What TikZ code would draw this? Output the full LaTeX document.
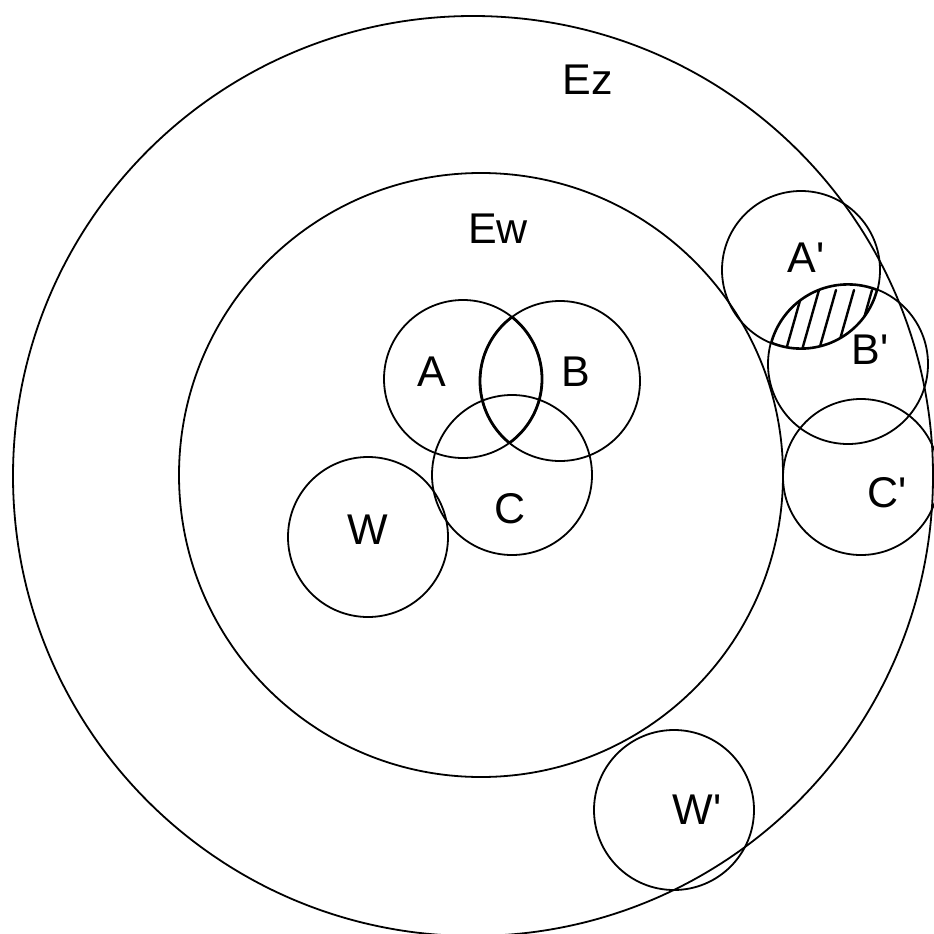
\documentclass[tikz,border=0pt]{standalone}
\usepackage{fontspec}
\setmainfont{Liberation Sans}
\newcommand{\pr}{\textquotesingle}
\begin{document}
\begin{tikzpicture}[x=1pt,y=-1pt,
  ring/.style={draw=black,line width=1.8pt},
  lbl/.style={inner sep=0pt,font=\fontsize{43}{43}\selectfont},
  hatchline/.style={line width=2.4pt,line cap=round}]
\useasboundingbox (0,0) rectangle (934,934);
\fill[white] (0,0) rectangle (934,934);
% centres of the sets
\coordinate (cEz) at (473,476);
\coordinate (cEw) at (481,475);
\coordinate (cA) at (463,379);
\coordinate (cB) at (560,381);
\coordinate (cC) at (512,475);
\coordinate (cW) at (368,537);
\coordinate (cAp) at (801,270);
\coordinate (cBp) at (848,364);
\coordinate (cCp) at (861,477);
\coordinate (cWp) at (674,810);
% hatched overlap of A' and B'
\begin{scope}
  \clip (cAp) circle[radius=79pt];
  \clip (cBp) circle[radius=80pt];
  \foreach \x in {786,802,819,837,855}
    \draw[hatchline] (\x,350) -- (\x+17,290);
  \draw[line width=3.4pt] (cAp) circle[radius=79pt];
  \draw[line width=3.4pt] (cBp) circle[radius=80pt];
\end{scope}
% heavier strokes where A and B overlap
\begin{scope}
  \clip (cA) circle[radius=79pt];
  \draw[line width=2.8pt] (cB) circle[radius=80pt];
\end{scope}
\begin{scope}
  \clip (cB) circle[radius=80pt];
  \draw[line width=2.8pt] (cA) circle[radius=79pt];
\end{scope}
% circles
\draw[ring] (cEz) circle[radius=460pt];
\draw[ring] (cEw) circle[radius=302pt];
\draw[ring] (cA) circle[radius=79pt];
\draw[ring] (cB) circle[radius=80pt];
\draw[ring] (cC) circle[radius=80pt];
\draw[ring] (cW) circle[radius=80pt];
\draw[ring] (cAp) circle[radius=79pt];
\draw[ring] (cBp) circle[radius=80pt];
\draw[ring] (cCp) circle[radius=78pt];
\draw[ring] (cWp) circle[radius=80pt];
% labels
\node[lbl] (tEz) at (588,80) {Ez};
\node[lbl] (tEw) at (498,229) {Ew};
\node[lbl] (tA) at (432,372) {A};
\node[lbl] (tB) at (576,372) {B};
\node[lbl] (tC) at (510,509) {C};
\node[lbl] (tW) at (368,530) {W};
\node[lbl] (tAp) at (806,258) {A\pr};
\node[lbl] (tBp) at (870,350) {B\pr};
\node[lbl] (tCp) at (887,493) {C\pr};
\node[lbl] (tWp) at (697,810) {W\pr};
\end{tikzpicture}
\end{document}
